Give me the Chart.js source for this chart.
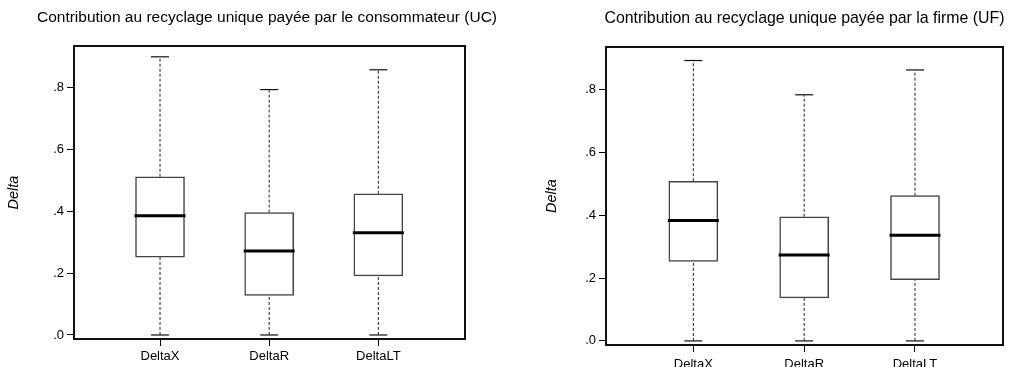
<!DOCTYPE html>
<html>
<head>
<meta charset="utf-8">
<script src="https://cdn.jsdelivr.net/npm/chart.js@4.4.1/dist/chart.umd.min.js"></script>
<style>
  body { margin: 0; background: #fff; }
  #wrap { position: relative; width: 1014px; height: 367px; }
  canvas { position: absolute; top: 0; }
  #cUC { left: 0; }
  #cUF { left: 507px; }
</style>
</head>
<body>
<div id="wrap">
  <canvas id="cUC" width="507" height="367"></canvas>
  <canvas id="cUF" width="507" height="367"></canvas>
</div>
<script>
// categories
const categories = ['DeltaX', 'DeltaR', 'DeltaLT'];
const yTicks = [0, 0.2, 0.4, 0.6, 0.8];

// UC panel (consommateur)
const ucLow  = [0, 0, 0];
const ucQ1   = [0.252, 0.128, 0.191];
const ucMed  = [0.386, 0.272, 0.331];
const ucQ3   = [0.512, 0.396, 0.457];
const ucHigh = [0.900, 0.794, 0.858];

// UF panel (firme)
const ufLow  = [0, 0, 0];
const ufQ1   = [0.253, 0.137, 0.195];
const ufMed  = [0.383, 0.273, 0.336];
const ufQ3   = [0.508, 0.395, 0.462];
const ufHigh = [0.892, 0.783, 0.862];

Chart.defaults.font.family = "'Liberation Sans', Arial, sans-serif";
Chart.defaults.color = '#000';

// cadre noir + titre centré sur la zone du graphique
const framePlugin = {
  id: 'frame',
  afterDraw(chart, args, opts) {
    const a = chart.chartArea, ctx = chart.ctx;
    ctx.save();
    ctx.strokeStyle = '#111';
    ctx.lineWidth = 2;
    ctx.strokeRect(a.left, a.top, a.right - a.left, a.bottom - a.top);
    ctx.fillStyle = '#000';
    ctx.font = opts.size + "px 'Liberation Sans', Arial, sans-serif";
    ctx.textAlign = 'center';
    ctx.textBaseline = 'middle';
    ctx.fillText(opts.text, (a.left + a.right) / 2 + opts.dx, opts.y);
    ctx.restore();
  }
};

function boxChart(id, title, lo, q1, med, q3, hi, lay) {
  const boxes = categories.map((c, i) => ({ x: i, y: [q1[i], q3[i]] }));
  const medians = categories.map((c, i) => ({ x: i, y: med[i] }));
  const caps = [];
  const whiskers = [];
  categories.forEach((c, i) => {
    caps.push({ x: i, y: lo[i] }, { x: i, y: hi[i] });
    whiskers.push({ x: i, y: lo[i] }, { x: i, y: q1[i] }, { x: i, y: null },
                  { x: i, y: q3[i] }, { x: i, y: hi[i] }, { x: i, y: null });
  });

  return new Chart(document.getElementById(id), {
    type: 'bar',
    data: {
      datasets: [
        {
          type: 'scatter', data: medians, order: 0,
          pointStyle: 'line', pointRadius: 25.5, pointHoverRadius: 25.5,
          borderColor: '#000', borderWidth: 3
        },
        {
          type: 'scatter', data: caps, order: 1,
          pointStyle: 'line', pointRadius: 9, pointHoverRadius: 9,
          borderColor: '#111', borderWidth: 1.2
        },
        {
          type: 'bar', data: boxes, order: 2,
          backgroundColor: '#fff', borderColor: '#444', borderWidth: 1.5,
          borderSkipped: false, barThickness: 49
        },
        {
          type: 'line', data: whiskers, order: 3,
          borderColor: '#222', borderWidth: 1, borderDash: [3, 2],
          pointRadius: 0, spanGaps: false, tension: 0
        }
      ]
    },
    options: {
      responsive: false,
      animation: false,
      layout: { autoPadding: false, padding: { left: 0, right: lay.padRight, top: lay.top, bottom: 0 } },
      plugins: {
        legend: { display: false },
        tooltip: { enabled: false },
        title: { display: false },
        frame: { text: title, size: lay.titleSize, y: lay.titleY, dx: lay.titleDx }
      },
      scales: {
        x: {
          type: 'linear', min: -0.788, max: 2.794, offset: false,
          afterBuildTicks: s => { s.ticks = categories.map((c, i) => ({ value: i })); },
          afterFit: s => {
            s.height = lay.xHeight;
            s.paddingLeft = 0; s.paddingRight = 0; s.paddingTop = 0; s.paddingBottom = 0;
          },
          border: { display: false },
          grid: { display: true, drawOnChartArea: false, offset: false, tickLength: 7, color: '#000', tickWidth: 1 },
          ticks: {
            autoSkip: false, maxRotation: 0, padding: lay.xPad,
            font: { size: 13 }, color: '#000',
            callback: v => categories[v]
          }
        },
        y: {
          min: -0.013, max: 0.935,
          afterBuildTicks: s => { s.ticks = yTicks.map(v => ({ value: v })); },
          afterFit: s => {
            s.width = lay.yWidth;
            s.paddingLeft = 0; s.paddingRight = 0; s.paddingTop = 0; s.paddingBottom = 0;
          },
          border: { display: false },
          grid: { display: true, drawOnChartArea: false, tickLength: 7, color: '#000', tickWidth: 1 },
          ticks: {
            padding: 3, font: { size: 13 }, color: '#000',
            callback: v => v.toFixed(1).replace(/^0/, '')
          },
          title: {
            display: true, text: 'Delta', color: '#000',
            font: { size: 14.5, style: 'italic' },
            padding: { top: lay.yTitlePad, bottom: 0 }
          }
        }
      }
    },
    plugins: [framePlugin]
  });
}

boxChart('cUC', 'Contribution au recyclage unique payée par le consommateur (UC)',
  ucLow, ucQ1, ucMed, ucQ3, ucHigh,
  { padRight: 42, top: 46, titleSize: 15.5, titleY: 18, titleDx: -2.5, xHeight: 28, xPad: 3, yWidth: 74, yTitlePad: 5.3 });

boxChart('cUF', 'Contribution au recyclage unique payée par la firme (UF)',
  ufLow, ufQ1, ufMed, ufQ3, ufHigh,
  { padRight: 11, top: 47, titleSize: 15.9, titleY: 19, titleDx: 0, xHeight: 22, xPad: 5, yWidth: 99, yTitlePad: 36.3 });
</script>
</body>
</html>
